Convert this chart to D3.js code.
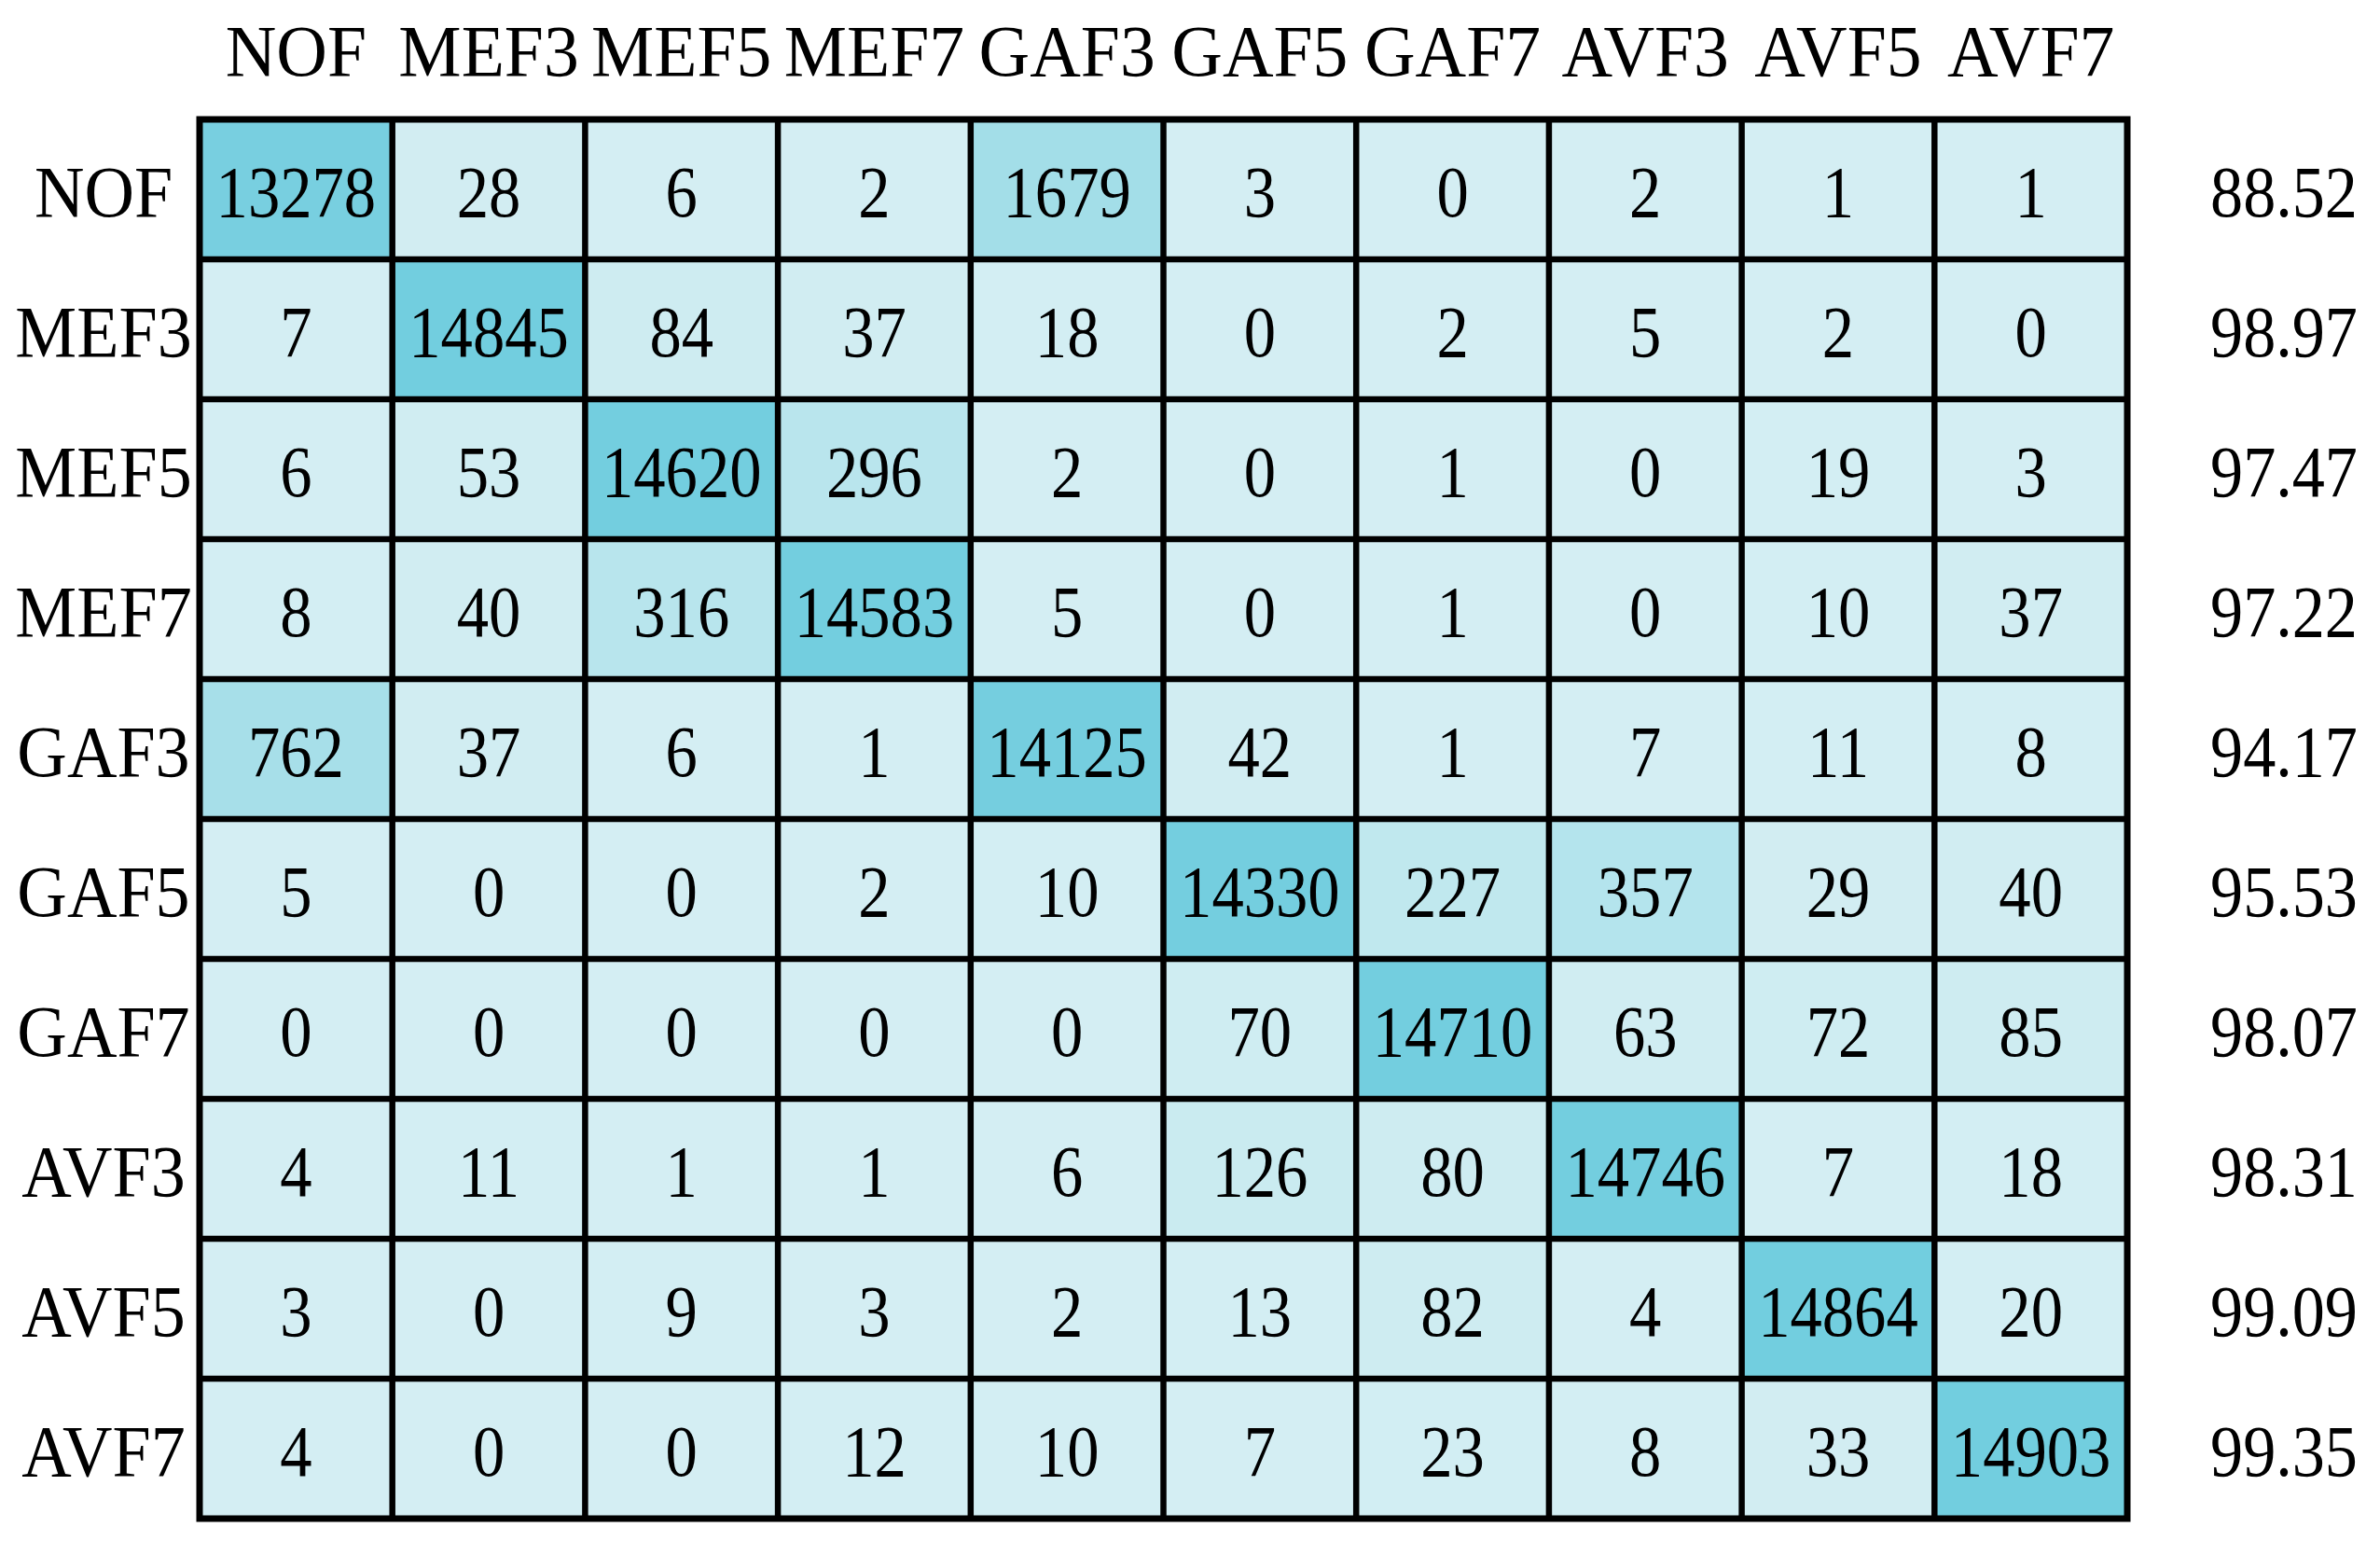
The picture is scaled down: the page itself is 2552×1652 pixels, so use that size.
<!DOCTYPE html>
<html>
<head>
<meta charset="utf-8">
<script src="https://cdn.jsdelivr.net/npm/d3@7"></script>
<style>
  html, body { margin: 0; padding: 0; background: #fff; }
  svg text { font-family: "Liberation Serif", "Times New Roman", serif; fill: #000; }
</style>
</head>
<body>
<div id="chart"></div>
<script>
// class labels (rows = true, columns = predicted)
const classes = ['NOF', 'MEF3', 'MEF5', 'MEF7', 'GAF3', 'GAF5', 'GAF7', 'AVF3', 'AVF5', 'AVF7'];

// confusion matrix counts, one array per row
const rowNOF  = [13278, 28, 6, 2, 1679, 3, 0, 2, 1, 1];
const rowMEF3 = [7, 14845, 84, 37, 18, 0, 2, 5, 2, 0];
const rowMEF5 = [6, 53, 14620, 296, 2, 0, 1, 0, 19, 3];
const rowMEF7 = [8, 40, 316, 14583, 5, 0, 1, 0, 10, 37];
const rowGAF3 = [762, 37, 6, 1, 14125, 42, 1, 7, 11, 8];
const rowGAF5 = [5, 0, 0, 2, 10, 14330, 227, 357, 29, 40];
const rowGAF7 = [0, 0, 0, 0, 0, 70, 14710, 63, 72, 85];
const rowAVF3 = [4, 11, 1, 1, 6, 126, 80, 14746, 7, 18];
const rowAVF5 = [3, 0, 9, 3, 2, 13, 82, 4, 14864, 20];
const rowAVF7 = [4, 0, 0, 12, 10, 7, 23, 8, 33, 14903];

// per-class accuracy (%) shown on the right
const accuracy = ['88.52', '98.97', '97.47', '97.22', '94.17', '95.53', '98.07', '98.31', '99.09', '99.35'];

const rows = [rowNOF, rowMEF3, rowMEF5, rowMEF7, rowGAF3, rowGAF5, rowGAF7, rowAVF3, rowAVF5, rowAVF7];

const W = 2552, H = 1652;
const gridLeft = 214, gridRight = 2281, gridTop = 128, gridBottom = 1628;
const fontSize = 78;

const cells = [];
rows.forEach((r, i) => r.forEach((v, j) => cells.push({ row: classes[i], col: classes[j], value: v })));

const x = d3.scaleBand().domain(classes).range([gridLeft, gridRight]);
const y = d3.scaleBand().domain(classes).range([gridTop, gridBottom]);

// light cyan ramp
const color = d3.scaleLinear()
  .domain([0, 100, 300, 360, 800, 1700, 13300, 14900])
  .range(['#d4eef3', '#cdecf1', '#b9e5ed', '#b4e4ed', '#a6dfe9', '#a3dee8', '#78cfe0', '#72cedf'])
  .clamp(true);

const svg = d3.select('#chart').append('svg')
  .attr('width', W)
  .attr('height', H);

// cells
svg.append('g')
  .selectAll('rect')
  .data(cells)
  .enter().append('rect')
  .attr('x', d => x(d.col))
  .attr('y', d => y(d.row))
  .attr('width', x.bandwidth())
  .attr('height', y.bandwidth())
  .attr('fill', d => color(d.value));

// grid lines
const lines = svg.append('g').attr('stroke', '#000').attr('stroke-width', 6.5);
classes.slice(1).forEach(c => {
  lines.append('line').attr('x1', x(c)).attr('x2', x(c)).attr('y1', gridTop).attr('y2', gridBottom);
  lines.append('line').attr('y1', y(c)).attr('y2', y(c)).attr('x1', gridLeft).attr('x2', gridRight);
});
svg.append('rect')
  .attr('x', gridLeft).attr('y', gridTop)
  .attr('width', gridRight - gridLeft).attr('height', gridBottom - gridTop)
  .attr('fill', 'none').attr('stroke', '#000').attr('stroke-width', 7);

// cell values
svg.append('g')
  .selectAll('text')
  .data(cells)
  .enter().append('text')
  .attr('text-anchor', 'middle')
  .attr('font-size', fontSize)
  .attr('transform', d => `translate(${x(d.col) + x.bandwidth() / 2},${y(d.row) + y.bandwidth() / 2 + 29}) scale(0.88,1)`)
  .text(d => d.value);

// column headers
svg.append('g')
  .selectAll('text')
  .data(classes)
  .enter().append('text')
  .attr('text-anchor', 'middle')
  .attr('font-size', fontSize)
  .attr('transform', d => `translate(${x(d) + x.bandwidth() / 2},81) scale(0.97,1)`)
  .text(d => d);

// row labels
svg.append('g')
  .selectAll('text')
  .data(classes)
  .enter().append('text')
  .attr('text-anchor', 'middle')
  .attr('font-size', fontSize)
  .attr('transform', d => `translate(111,${y(d) + y.bandwidth() / 2 + 29}) scale(0.95,1)`)
  .text(d => d);

// accuracy column
svg.append('g')
  .selectAll('text')
  .data(accuracy)
  .enter().append('text')
  .attr('text-anchor', 'middle')
  .attr('font-size', fontSize)
  .attr('transform', (d, i) => `translate(2449,${y(classes[i]) + y.bandwidth() / 2 + 29}) scale(0.9,1)`)
  .text(d => d);
</script>
</body>
</html>
